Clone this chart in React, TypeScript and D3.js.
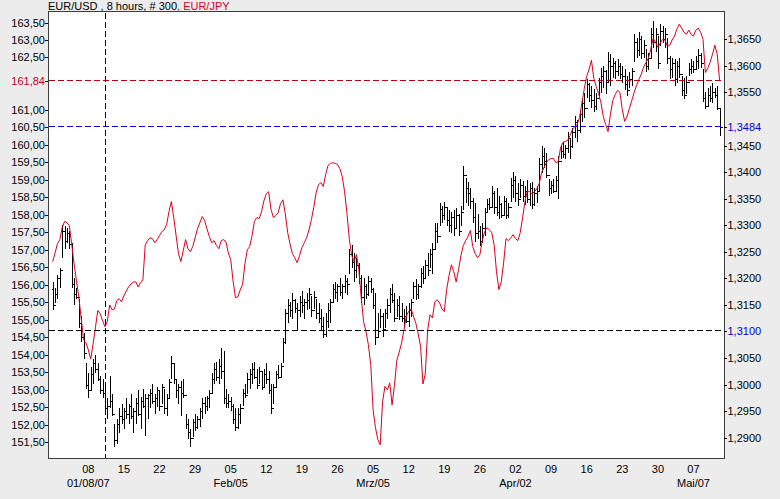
import { useEffect, useRef } from "react";
import * as d3 from "d3";

// EUR/USD 8-hour bars (right axis), one row per week (15 bars)
const usdHigh = [
  1.3194, 1.3181, 1.3206, 1.3219, 1.3300, 1.3298, 1.3294, 1.3290, 1.3266, 1.3200, 1.3181, 1.3162, 1.3130, 1.3098, 1.3040,
  1.3021, 1.3034, 1.3049, 1.3055, 1.3040, 1.3017, 1.3011, 1.3002, 1.2974, 1.3017, 1.2983, 1.2926, 1.2936, 1.2955, 1.2964,
  1.2955, 1.2974, 1.2964, 1.2983, 1.2955, 1.2974, 1.2989, 1.2977, 1.2992, 1.2983, 1.2983, 1.2992, 1.3002, 1.2983, 1.2996,
  1.2989, 1.3002, 1.2992, 1.2983, 1.3011, 1.3053, 1.3040, 1.3011, 1.3002, 1.3006, 1.3011, 1.2945, 1.2936, 1.2917, 1.2936,
  1.2945, 1.2941, 1.2955, 1.2974, 1.2977, 1.2979, 1.2989, 1.3021, 1.3040, 1.3043, 1.3049, 1.3068, 1.3064, 1.2992, 1.2983,
  1.2977, 1.2964, 1.2955, 1.2955, 1.2964, 1.2992, 1.3002, 1.3021, 1.3030, 1.3040, 1.3043, 1.3030, 1.3034, 1.3026, 1.3030,
  1.3040, 1.3026, 1.3002, 1.3002, 1.3026, 1.3036, 1.3040, 1.3087, 1.3143, 1.3162, 1.3156, 1.3172, 1.3162, 1.3153, 1.3166,
  1.3177, 1.3162, 1.3172, 1.3181, 1.3166, 1.3177, 1.3162, 1.3153, 1.3143, 1.3128, 1.3134, 1.3153, 1.3162, 1.3190, 1.3194,
  1.3190, 1.3200, 1.3190, 1.3206, 1.3200, 1.3256, 1.3262, 1.3247, 1.3238, 1.3228, 1.3206, 1.3200, 1.3190, 1.3204, 1.3200,
  1.3181, 1.3172, 1.3134, 1.3143, 1.3134, 1.3143, 1.3162, 1.3181, 1.3190, 1.3172, 1.3162, 1.3166, 1.3153, 1.3143, 1.3147,
  1.3153, 1.3162, 1.3194, 1.3198, 1.3190, 1.3219, 1.3223, 1.3234, 1.3247, 1.3255, 1.3266, 1.3304, 1.3305, 1.3341, 1.3336,
  1.3343, 1.3332, 1.3328, 1.3324, 1.3328, 1.3332, 1.3322, 1.3336, 1.3411, 1.3388, 1.3381, 1.3370, 1.3351, 1.3341, 1.3322,
  1.3298, 1.3304, 1.3332, 1.3349, 1.3351, 1.3373, 1.3364, 1.3370, 1.3355, 1.3341, 1.3355, 1.3351, 1.3341, 1.3388, 1.3400,
  1.3392, 1.3379, 1.3387, 1.3383, 1.3373, 1.3385, 1.3379, 1.3381, 1.3370, 1.3373, 1.3426, 1.3449, 1.3445, 1.3436, 1.3387,
  1.3383, 1.3387, 1.3392, 1.3430, 1.3449, 1.3456, 1.3451, 1.3475, 1.3464, 1.3483, 1.3505, 1.3498, 1.3517, 1.3537, 1.3549,
  1.3575, 1.3568, 1.3562, 1.3556, 1.3549, 1.3577, 1.3596, 1.3600, 1.3592, 1.3626, 1.3622, 1.3615, 1.3609, 1.3613, 1.3605,
  1.3600, 1.3594, 1.3581, 1.3588, 1.3596, 1.3660, 1.3652, 1.3664, 1.3656, 1.3649, 1.3632, 1.3624, 1.3671, 1.3685, 1.3671,
  1.3656, 1.3679, 1.3675, 1.3671, 1.3652, 1.3619, 1.3615, 1.3613, 1.3609, 1.3615, 1.3581, 1.3577, 1.3581, 1.3605, 1.3613,
  1.3609, 1.3619, 1.3632, 1.3624, 1.3594, 1.3551, 1.3558, 1.3562, 1.3568, 1.3558, 1.3562, 1.3519,
];

const usdLow = [
  1.3140, 1.3153, 1.3162, 1.3181, 1.3238, 1.3256, 1.3266, 1.3256, 1.3181, 1.3149, 1.3162, 1.3106, 1.3081, 1.3049, 1.2992,
  1.2974, 1.2989, 1.3002, 1.3021, 1.3006, 1.2983, 1.2974, 1.2945, 1.2936, 1.2955, 1.2941, 1.2883, 1.2889, 1.2908, 1.2926,
  1.2917, 1.2936, 1.2926, 1.2936, 1.2908, 1.2926, 1.2940, 1.2917, 1.2955, 1.2904, 1.2936, 1.2955, 1.2964, 1.2945, 1.2958,
  1.2951, 1.2964, 1.2945, 1.2941, 1.2974, 1.3011, 1.3002, 1.2974, 1.2964, 1.2941, 1.2974, 1.2917, 1.2898, 1.2883, 1.2902,
  1.2913, 1.2917, 1.2921, 1.2936, 1.2945, 1.2951, 1.2955, 1.2983, 1.3002, 1.3006, 1.3002, 1.3011, 1.2964, 1.2955, 1.2955,
  1.2951, 1.2926, 1.2913, 1.2917, 1.2926, 1.2960, 1.2974, 1.2983, 1.2992, 1.3002, 1.3011, 1.2992, 1.3002, 1.2989, 1.2996,
  1.3002, 1.2983, 1.2945, 1.2964, 1.2996, 1.3011, 1.3015, 1.3040, 1.3077, 1.3115, 1.3128, 1.3124, 1.3134, 1.3100, 1.3128,
  1.3134, 1.3124, 1.3140, 1.3143, 1.3128, 1.3143, 1.3124, 1.3115, 1.3102, 1.3087, 1.3090, 1.3106, 1.3115, 1.3153, 1.3162,
  1.3156, 1.3166, 1.3162, 1.3172, 1.3168, 1.3209, 1.3219, 1.3194, 1.3200, 1.3190, 1.3153, 1.3149, 1.3162, 1.3166, 1.3172,
  1.3143, 1.3074, 1.3087, 1.3106, 1.3090, 1.3106, 1.3124, 1.3134, 1.3153, 1.3117, 1.3128, 1.3121, 1.3117, 1.3109, 1.3115,
  1.3109, 1.3128, 1.3162, 1.3160, 1.3162, 1.3181, 1.3190, 1.3200, 1.3204, 1.3219, 1.3209, 1.3256, 1.3266, 1.3298, 1.3304,
  1.3309, 1.3298, 1.3287, 1.3285, 1.3279, 1.3294, 1.3279, 1.3298, 1.3328, 1.3341, 1.3336, 1.3330, 1.3304, 1.3268, 1.3275,
  1.3260, 1.3266, 1.3279, 1.3324, 1.3328, 1.3332, 1.3322, 1.3317, 1.3311, 1.3313, 1.3317, 1.3311, 1.3313, 1.3343, 1.3351,
  1.3343, 1.3336, 1.3351, 1.3343, 1.3339, 1.3341, 1.3336, 1.3330, 1.3336, 1.3341, 1.3362, 1.3398, 1.3407, 1.3388, 1.3355,
  1.3358, 1.3360, 1.3362, 1.3349, 1.3424, 1.3426, 1.3424, 1.3436, 1.3424, 1.3445, 1.3464, 1.3456, 1.3473, 1.3494, 1.3502,
  1.3539, 1.3532, 1.3520, 1.3513, 1.3517, 1.3543, 1.3549, 1.3558, 1.3547, 1.3568, 1.3562, 1.3577, 1.3575, 1.3581, 1.3575,
  1.3568, 1.3554, 1.3543, 1.3558, 1.3562, 1.3607, 1.3615, 1.3619, 1.3613, 1.3615, 1.3588, 1.3592, 1.3615, 1.3634, 1.3626,
  1.3594, 1.3637, 1.3643, 1.3634, 1.3603, 1.3575, 1.3577, 1.3562, 1.3568, 1.3577, 1.3543, 1.3537, 1.3547, 1.3581, 1.3585,
  1.3587, 1.3592, 1.3594, 1.3596, 1.3532, 1.3519, 1.3524, 1.3532, 1.3530, 1.3539, 1.3517, 1.3468,
];

const usdClose = [
  1.3150, 1.3170, 1.3200, 1.3215, 1.3290, 1.3270, 1.3285, 1.3265, 1.3190, 1.3170, 1.3165, 1.3115, 1.3090, 1.3060, 1.3000,
  1.2990, 1.3020, 1.3040, 1.3030, 1.3010, 1.2990, 1.2985, 1.2955, 1.2960, 1.2970, 1.2945, 1.2895, 1.2925, 1.2940, 1.2935,
  1.2950, 1.2945, 1.2960, 1.2940, 1.2950, 1.2965, 1.2945, 1.2970, 1.2960, 1.2975, 1.2980, 1.2985, 1.2970, 1.2975, 1.2990,
  1.2960, 1.2995, 1.2955, 1.2975, 1.3005, 1.3040, 1.3010, 1.2990, 1.2995, 1.2985, 1.2980, 1.2925, 1.2910, 1.2900, 1.2930,
  1.2920, 1.2935, 1.2950, 1.2965, 1.2960, 1.2975, 1.2985, 1.3010, 1.3030, 1.3015, 1.3035, 1.3025, 1.2975, 1.2965, 1.2970,
  1.2960, 1.2935, 1.2920, 1.2945, 1.2955, 1.2985, 1.2980, 1.3010, 1.3020, 1.3030, 1.3015, 1.3000, 1.3025, 1.2995, 1.3020,
  1.3010, 1.2990, 1.2955, 1.2995, 1.3020, 1.3015, 1.3035, 1.3080, 1.3135, 1.3150, 1.3140, 1.3160, 1.3145, 1.3140, 1.3155,
  1.3150, 1.3155, 1.3160, 1.3170, 1.3140, 1.3165, 1.3135, 1.3125, 1.3110, 1.3095, 1.3120, 1.3140, 1.3155, 1.3180, 1.3175,
  1.3185, 1.3175, 1.3185, 1.3195, 1.3190, 1.3245, 1.3230, 1.3215, 1.3225, 1.3200, 1.3165, 1.3185, 1.3170, 1.3195, 1.3180,
  1.3150, 1.3090, 1.3100, 1.3130, 1.3105, 1.3135, 1.3150, 1.3170, 1.3160, 1.3125, 1.3150, 1.3130, 1.3125, 1.3130, 1.3120,
  1.3140, 1.3155, 1.3185, 1.3170, 1.3185, 1.3210, 1.3200, 1.3225, 1.3215, 1.3245, 1.3255, 1.3290, 1.3280, 1.3330, 1.3320,
  1.3335, 1.3310, 1.3300, 1.3315, 1.3295, 1.3320, 1.3290, 1.3325, 1.3395, 1.3370, 1.3360, 1.3345, 1.3315, 1.3285, 1.3290,
  1.3270, 1.3295, 1.3325, 1.3340, 1.3335, 1.3360, 1.3335, 1.3325, 1.3340, 1.3320, 1.3345, 1.3320, 1.3335, 1.3375, 1.3385,
  1.3360, 1.3350, 1.3375, 1.3355, 1.3365, 1.3350, 1.3370, 1.3340, 1.3360, 1.3365, 1.3415, 1.3430, 1.3420, 1.3395, 1.3370,
  1.3375, 1.3365, 1.3385, 1.3420, 1.3440, 1.3435, 1.3445, 1.3465, 1.3450, 1.3475, 1.3495, 1.3480, 1.3510, 1.3530, 1.3520,
  1.3565, 1.3545, 1.3535, 1.3525, 1.3540, 1.3570, 1.3580, 1.3590, 1.3570, 1.3610, 1.3600, 1.3605, 1.3590, 1.3600, 1.3585,
  1.3580, 1.3565, 1.3555, 1.3575, 1.3590, 1.3645, 1.3630, 1.3650, 1.3625, 1.3640, 1.3600, 1.3615, 1.3660, 1.3645, 1.3660,
  1.3605, 1.3665, 1.3650, 1.3660, 1.3615, 1.3595, 1.3605, 1.3575, 1.3600, 1.3585, 1.3555, 1.3545, 1.3570, 1.3595, 1.3600,
  1.3595, 1.3610, 1.3620, 1.3605, 1.3540, 1.3525, 1.3545, 1.3540, 1.3550, 1.3545, 1.3520, 1.3484,
];
const usdFirstOpen = 1.3180;

// EUR/JPY close per bar (left axis)
const jpyClose = [
  156.66, 156.91, 157.17, 157.29, 157.63, 157.81, 157.77, 157.69, 157.17, 156.60, 156.11, 155.65, 155.04, 154.43, 154.34,
  154.14, 153.87, 154.30, 154.77, 155.26, 155.17, 154.97, 154.80, 154.94, 155.42, 155.28, 155.31, 155.54, 155.60, 155.51,
  155.68, 155.82, 155.94, 156.02, 156.08, 156.08, 155.94, 156.05, 156.14, 157.14, 157.26, 157.34, 157.32, 157.20, 157.29,
  157.40, 157.52, 157.57, 157.72, 158.09, 158.38, 157.92, 157.40, 156.89, 156.66, 156.97, 157.29, 157.03, 156.94, 157.09,
  157.34, 157.60, 157.77, 157.95, 157.84, 157.60, 157.38, 157.20, 157.26, 157.12, 157.03, 157.26, 157.29, 157.23, 156.91,
  156.72, 156.11, 155.63, 155.65, 155.85, 156.00, 156.60, 157.00, 157.09, 157.40, 157.81, 157.92, 157.89, 158.09, 158.40,
  158.60, 158.66, 158.15, 157.92, 157.98, 158.06, 158.32, 158.43, 158.03, 157.49, 157.17, 156.89, 156.77, 156.63, 156.83,
  157.06, 157.20, 157.34, 157.57, 157.86, 158.21, 158.63, 158.86, 158.92, 158.81, 159.15, 159.41, 159.47, 159.49, 159.47,
  159.44, 159.32, 159.09, 158.66, 158.03, 157.29, 156.83, 156.66, 156.86, 156.43, 155.63, 154.94, 154.66, 154.29, 153.72,
  152.42, 151.91, 151.57, 151.42, 152.66, 153.09, 152.99, 153.19, 152.56, 153.12, 153.84, 154.07, 154.33, 154.70, 155.10,
  155.24, 155.31, 155.10, 154.90, 154.59, 154.24, 153.16, 153.45, 154.71, 155.14, 155.05, 155.51, 155.57, 155.48, 155.31,
  155.23, 155.86, 156.26, 156.57, 156.37, 156.08, 156.43, 156.83, 157.12, 157.26, 157.38, 157.55, 157.09, 156.89, 156.77,
  156.86, 157.26, 157.52, 157.63, 157.57, 157.49, 157.14, 156.37, 155.86, 156.08, 156.63, 157.32, 157.26, 157.34, 157.43,
  157.32, 157.26, 157.49, 157.92, 158.38, 158.69, 158.66, 158.60, 158.66, 158.75, 158.89, 159.21, 159.35, 159.49, 159.58,
  159.61, 159.61, 159.49, 159.52, 159.92, 160.07, 160.10, 160.13, 160.27, 160.44, 160.53, 160.58, 160.78, 161.21, 161.61,
  161.96, 162.16, 162.42, 161.90, 161.67, 161.47, 161.21, 160.81, 160.58, 160.38, 160.87, 161.27, 161.44, 161.56, 161.50,
  161.01, 160.67, 160.81, 161.04, 161.27, 161.50, 161.70, 161.87, 162.02, 162.22, 162.36, 162.48, 162.74, 163.05, 162.94,
  162.79, 162.91, 163.02, 163.00, 162.82, 162.85, 163.00, 163.11, 163.31, 163.45, 163.34, 163.22, 163.16, 163.28, 163.16,
  163.11, 163.28, 163.34, 163.22, 163.02, 162.07, 162.19, 162.36, 162.59, 162.85, 162.59, 161.84,
];

// axis ticks (levels hidden behind the marker labels are left out)
const jpyTicks = [
  151.5, 152, 152.5, 153, 153.5, 154, 154.5, 155, 155.5, 156, 156.5, 157,
  157.5, 158, 158.5, 159, 159.5, 160, 160.5, 161, 162.5, 163, 163.5,
];
const usdTicks = [
  1.29, 1.295, 1.3, 1.305, 1.315, 1.32, 1.325, 1.33, 1.335, 1.34, 1.345, 1.355, 1.36, 1.365,
];
// weekly (Monday) labels, 15 bars per week
const dayLabels = ["08", "15", "22", "29", "05", "12", "19", "26", "05", "12", "19", "26", "02", "09", "16", "23", "30", "07"];
const monthLabels = ["01/08/07", "", "", "", "Feb/05", "", "", "", "Mrz/05", "", "", "", "Apr/02", "", "", "", "", "Mai/07"];

// marker levels
const jpyLast = 161.84;
const usdLast = 1.3484;
const usdCursor = 1.31;
const cursorBar = 22;

const FONT = "'Liberation Sans', Arial, sans-serif";
const RED = "#d8001c";
const MARK_RED = "#b4000c";
const MARK_BLUE = "#0000d8";
const LABEL_RED = "#b4001e";
const LABEL_BLUE = "#0000c8";

export default function App() {
  const svgRef = useRef<SVGSVGElement>(null);

  useEffect(() => {
    if (!svgRef.current) return;
    const svg = d3.select(svgRef.current);
    svg.selectAll("*").remove();

    const left = 48, right = 724, top = 11.5, bottom = 458.5;

    const x = d3.scaleLinear().domain([0, 281]).range([52.7, 719.6]);
    const yL = d3.scaleLinear().domain([151.5, 163.5]).range([442, 22.5]);
    const yR = d3.scaleLinear().domain([1.29, 1.365]).range([437.7, 39.3]);
    const px = (v: number) => Math.round(v) + 0.5;

    svg.append("rect").attr("width", 780).attr("height", 499).attr("fill", "#ececec");
    svg.append("rect")
      .attr("x", left + 0.5).attr("y", top)
      .attr("width", right - left).attr("height", bottom - top)
      .attr("fill", "#ffffff");

    // OHLC bars
    const bars = svg.append("g")
      .attr("stroke", "#000").attr("stroke-width", 1)
      .attr("shape-rendering", "crispEdges");
    usdHigh.forEach((h, i) => {
      const xi = px(x(i));
      const open = i === 0 ? usdFirstOpen : usdClose[i - 1];
      const yh = Math.round(yR(h));
      const yl = Math.max(Math.round(yR(usdLow[i])), yh + 2);
      bars.append("line").attr("x1", xi).attr("x2", xi).attr("y1", yh).attr("y2", yl);
      bars.append("line").attr("x1", xi - 2).attr("x2", xi)
        .attr("y1", px(yR(open))).attr("y2", px(yR(open)));
      bars.append("line").attr("x1", xi).attr("x2", xi + 2)
        .attr("y1", px(yR(usdClose[i]))).attr("y2", px(yR(usdClose[i])));
    });

    // EUR/JPY line
    const line = d3.line<number>().x((_, i) => x(i)).y(d => yL(d));
    svg.append("path")
      .datum(jpyClose)
      .attr("d", line)
      .attr("fill", "none")
      .attr("stroke", RED)
      .attr("stroke-width", 1);

    // dashed marker lines
    const dash = "6,3";
    const markers = svg.append("g")
      .attr("stroke-dasharray", dash)
      .attr("stroke-width", 1)
      .attr("shape-rendering", "crispEdges");
    const hLine = (y: number, color: string) => {
      markers.append("path")
        .attr("d", `M${left + 1},${px(y) - 1}H${right}`)
        .attr("fill", "none")
        .style("stroke", color);
    };
    hLine(yL(jpyLast), MARK_RED);
    hLine(yR(usdLast), MARK_BLUE);
    hLine(yR(usdCursor), "#000000");
    markers.append("path")
      .attr("d", `M${px(x(cursorBar))},${top + 1}V${bottom}`)
      .attr("fill", "none")
      .style("stroke", "#000000");

    // frame
    svg.append("rect")
      .attr("x", left + 0.5).attr("y", top)
      .attr("width", right - left).attr("height", bottom - top)
      .attr("fill", "none").attr("stroke", "#3c3c3c")
      .attr("shape-rendering", "crispEdges");

    const axisText = svg.append("g")
      .attr("font-family", FONT).attr("font-size", 11).attr("fill", "#000");

    // left axis (EUR/JPY)
    const leftTick = (v: number, color: string) => {
      const y = px(yL(v));
      svg.append("line").attr("x1", left - 3).attr("x2", left)
        .attr("y1", y).attr("y2", y).attr("stroke", "#000")
        .attr("shape-rendering", "crispEdges");
      axisText.append("text")
        .attr("x", left - 3).attr("y", yL(v) + 4)
        .attr("text-anchor", "end").attr("fill", color)
        .text(v.toFixed(2).replace(".", ","));
    };
    jpyTicks.forEach(v => leftTick(v, "#000"));
    leftTick(jpyLast, LABEL_RED);

    // right axis (EUR/USD)
    const rightTick = (v: number, color: string) => {
      const y = px(yR(v));
      svg.append("line").attr("x1", right).attr("x2", right + 3)
        .attr("y1", y).attr("y2", y).attr("stroke", "#000")
        .attr("shape-rendering", "crispEdges");
      axisText.append("text")
        .attr("x", right + 3.5).attr("y", yR(v) + 4)
        .attr("fill", color)
        .text(v.toFixed(4).replace(".", ","));
    };
    usdTicks.forEach(v => rightTick(v, "#000"));
    rightTick(usdLast, LABEL_BLUE);
    rightTick(usdCursor, LABEL_BLUE);

    // time axis
    dayLabels.forEach((d, k) => {
      const xi = x(15 * (k + 1));
      axisText.append("text").attr("x", xi).attr("y", 473)
        .attr("text-anchor", "middle").text(d);
      if (monthLabels[k]) {
        axisText.append("text").attr("x", xi).attr("y", 487)
          .attr("text-anchor", "middle").text(monthLabels[k]);
      }
    });

    // title
    const title = svg.append("text")
      .attr("x", left).attr("y", 10)
      .attr("font-family", FONT).attr("font-size", 11);
    title.append("tspan").attr("fill", "#000").text("EUR/USD , 8 hours, # 300");
    title.append("tspan").attr("fill", RED).text(", EUR/JPY");
  }, []);

  return (
    <svg
      ref={svgRef}
      width={780}
      height={499}
      style={{ position: "absolute", left: 0, top: 0, display: "block" }}
    />
  );
}
